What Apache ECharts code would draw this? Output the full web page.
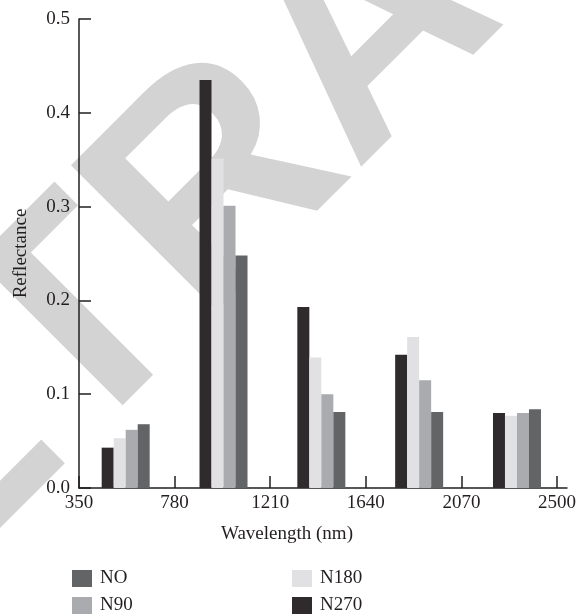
<!DOCTYPE html>
<html>
<head>
<meta charset="utf-8">
<script src="https://cdn.jsdelivr.net/npm/echarts@6/dist/echarts.min.js"></script>
<style>html,body{margin:0;padding:0;background:#fff;}#c{width:579px;height:616px;}</style>
</head>
<body>
<div id="c"></div>
<script>
var wavelengths = [560, 1000, 1440, 1880, 2320];
var seriesNames = ['N270', 'N180', 'N90', 'NO'];
var N270 = [0.043, 0.435, 0.193, 0.142, 0.080];
var N180 = [0.053, 0.351, 0.139, 0.161, 0.077];
var N90  = [0.062, 0.301, 0.100, 0.115, 0.080];
var NO   = [0.068, 0.248, 0.081, 0.081, 0.084];
var xTicks = [350, 780, 1210, 1640, 2070, 2500];
var yTicks = [0.0, 0.1, 0.2, 0.3, 0.4, 0.5];

var colors = {N270: '#2f2b2c', N180: '#e1e1e3', N90: '#aaabae', NO: '#636466'};
var values = {N270: N270, N180: N180, N90: N90, NO: NO};
var font = 'Liberation Serif';
var ink = '#231f20';
var fs = 19;

var chart = echarts.init(document.getElementById('c'), null, {renderer: 'canvas'});
var series = seriesNames.map(function (n) {
  return {
    name: n, type: 'bar', barWidth: 12, barGap: '0%',
    itemStyle: {color: colors[n]},
    data: wavelengths.map(function (w, i) { return [w, values[n][i]]; }),
    z: 5
  };
});
function legendAt(name, left, top) {
  return {
    data: [name], orient: 'vertical', left: left, top: top, padding: 0,
    itemWidth: 20, itemHeight: 17, icon: 'rect', selectedMode: false,
    textStyle: {fontFamily: font, fontSize: fs, color: ink, padding: [0, 0, 0, 3]}
  };
}
chart.setOption({
  animation: false,
  grid: {left: 79, right: 10, top: 19, bottom: 128, containLabel: false},
  graphic: [{
    type: 'text', z: -10, silent: true,
    x: 374, y: 37, rotation: Math.PI / 4,
    style: {text: 'RETRACTED', fill: '#d3d3d3', font: 'bold 300px "Liberation Sans"', align: 'center', verticalAlign: 'middle'}
  }],
  xAxis: {
    type: 'value', min: 350, max: 2545,
    name: 'Wavelength (nm)', nameLocation: 'middle', nameGap: 37,
    nameTextStyle: {fontFamily: font, fontSize: fs, color: ink, padding: [0, 72, 0, 0]},
    axisLine: {show: true, lineStyle: {color: ink, width: 1.5}},
    axisTick: {show: true, inside: true, length: 12, customValues: xTicks, lineStyle: {color: ink, width: 1.5}},
    axisLabel: {customValues: xTicks, fontFamily: font, fontSize: fs, color: ink, margin: 6,
      formatter: function (v) { return String(v); }},
    splitLine: {show: false}
  },
  yAxis: {
    type: 'value', min: 0, max: 0.5, interval: 0.1,
    name: 'Reflectance', nameLocation: 'middle', nameGap: 48,
    nameTextStyle: {fontFamily: font, fontSize: fs, color: ink},
    axisLine: {show: true, lineStyle: {color: ink, width: 1.5}},
    axisTick: {show: true, inside: true, length: 12, customValues: yTicks, lineStyle: {color: ink, width: 1.5}},
    axisLabel: {customValues: yTicks, fontFamily: font, fontSize: fs, color: ink, margin: 9,
      formatter: function (v) { return v.toFixed(1); }},
    splitLine: {show: false}
  },
  legend: [
    legendAt('NO', 72, 569),
    legendAt('N90', 72, 596),
    legendAt('N180', 292, 569),
    legendAt('N270', 292, 596)
  ],
  series: series
});
</script>
</body>
</html>
